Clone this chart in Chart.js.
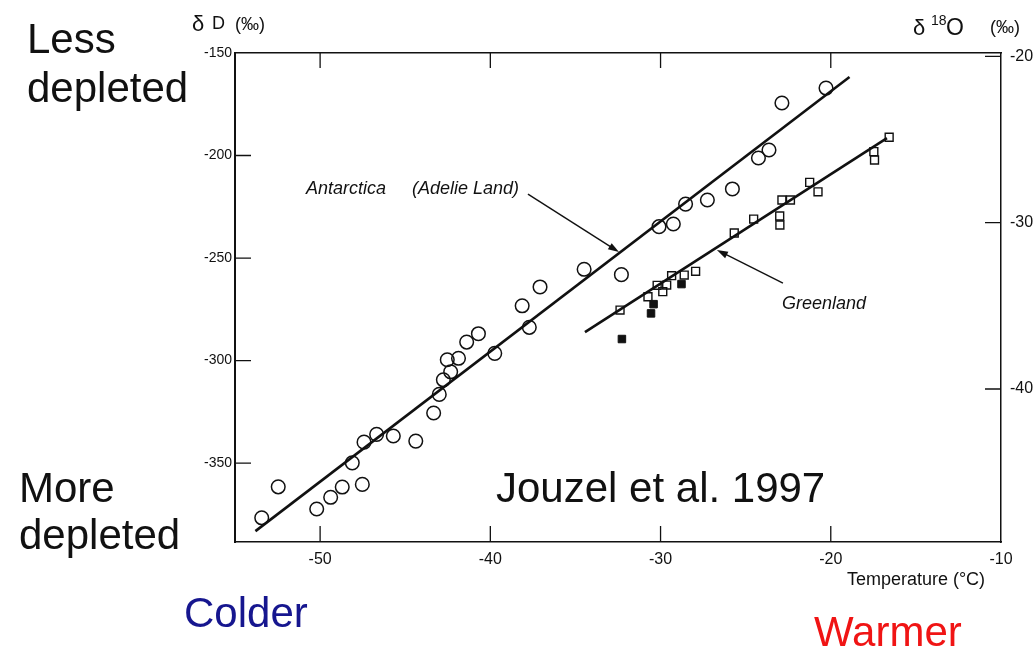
<!DOCTYPE html>
<html><head><meta charset="utf-8">
<script src="https://cdn.jsdelivr.net/npm/chart.js@4.4.1/dist/chart.umd.min.js"></script>
<style>html,body{margin:0;padding:0;background:#fff;overflow:hidden}#wrap{width:1035px;height:647px;position:relative}</style>
</head><body><div id="wrap"><canvas id="c" width="1035" height="647"></canvas></div>
<script>
// ---- data ----
const xTicks = [-50, -40, -30, -20, -10];
const yTicks = [-150, -200, -250, -300, -350];
const y2Ticks = [-20, -30, -40];

// Antarctica (Adelie Land) : temperature (°C), deltaD (permil)
const antT = [-53.43,-52.46,-50.20,-49.38,-48.70,-47.52,-48.11,-47.42,-46.68,-45.70,-44.38,-43.33,-43.00,-42.76,-42.33,-42.53,-41.87,-41.39,-40.70,-39.74,-37.71,-38.13,-37.08,-34.49,-32.30,-30.09,-29.25,-28.53,-27.25,-25.78,-24.25,-23.63,-22.87,-20.28];
const antD = [-376.7,-361.6,-372.4,-366.7,-361.7,-360.4,-349.9,-339.8,-336.0,-336.8,-339.3,-325.6,-316.5,-309.4,-305.5,-299.6,-298.9,-291.0,-286.9,-296.5,-283.8,-273.3,-264.1,-255.5,-258.1,-234.7,-233.4,-223.7,-221.7,-216.3,-201.2,-197.3,-174.4,-167.1];

// Greenland, open squares
const grOpenT = [-32.38,-30.74,-30.20,-29.87,-29.64,-29.35,-28.61,-27.94,-25.67,-24.53,-23.00,-22.99,-22.87,-22.37,-21.24,-20.75,-17.47,-17.43,-16.57];
const grOpenD = [-275.4,-268.9,-263.3,-266.4,-263.2,-258.6,-258.3,-256.5,-237.8,-231.0,-229.5,-233.9,-221.7,-221.7,-213.1,-217.7,-198.1,-202.2,-191.1];
// Greenland, filled squares
const grFillT = [-32.27,-30.56,-30.41,-28.77];
const grFillD = [-289.5,-277.0,-272.5,-262.7];

// regression lines
const antFitT = [-53.8, -18.9];
const antFitD = [-383.2, -161.7];
const grFitT = [-34.44, -16.70];
const grFitD = [-286.1, -191.5];

// annotation arrows (start -> head), data units
const arrowAntT = [-37.79, -32.44];
const arrowAntD = [-218.8, -247.1];
const arrowGrT = [-22.81, -26.69];
const arrowGrD = [-262.2, -246.1];

const FONT = "'Liberation Sans', Arial, Helvetica, sans-serif";
const INK = '#111';

function pts(xs, ys){ return xs.map((x,i)=>({x:x, y:ys[i]})); }

const inwardTicks = {
  id:'inwardTicks',
  afterDatasetsDraw(chart){
    const {ctx, chartArea:a, scales} = chart;
    ctx.save();
    ctx.strokeStyle = INK; ctx.lineWidth = 1.3;
    ctx.beginPath();
    xTicks.forEach(v=>{
      if (v <= scales.x.min || v >= scales.x.max) return;
      const px = scales.x.getPixelForValue(v);
      ctx.moveTo(px, a.bottom); ctx.lineTo(px, a.bottom-16);
      ctx.moveTo(px, a.top); ctx.lineTo(px, a.top+15);
    });
    yTicks.forEach(v=>{
      if (v <= scales.y.min || v >= scales.y.max) return;
      const py = scales.y.getPixelForValue(v);
      ctx.moveTo(a.left, py); ctx.lineTo(a.left+16, py);
    });
    y2Ticks.forEach(v=>{
      if (v <= scales.y2.min || v >= scales.y2.max) return;
      const py = scales.y2.getPixelForValue(v);
      ctx.moveTo(a.right, py); ctx.lineTo(a.right-16, py);
    });
    ctx.stroke();
    // arrows
    const arrow = (T, D) => {
      const x1 = scales.x.getPixelForValue(T[0]), y1 = scales.y.getPixelForValue(D[0]);
      const x2 = scales.x.getPixelForValue(T[1]), y2 = scales.y.getPixelForValue(D[1]);
      const ang = Math.atan2(y2-y1, x2-x1);
      const L = 11, W = 3.6;
      ctx.beginPath(); ctx.lineWidth = 1.4;
      ctx.moveTo(x1,y1); ctx.lineTo(x2 - L*0.8*Math.cos(ang), y2 - L*0.8*Math.sin(ang)); ctx.stroke();
      ctx.beginPath();
      ctx.moveTo(x2,y2);
      ctx.lineTo(x2 - L*Math.cos(ang) + W*Math.sin(ang), y2 - L*Math.sin(ang) - W*Math.cos(ang));
      ctx.lineTo(x2 - L*Math.cos(ang) - W*Math.sin(ang), y2 - L*Math.sin(ang) + W*Math.cos(ang));
      ctx.closePath(); ctx.fillStyle = INK; ctx.fill();
    };
    arrow(arrowAntT, arrowAntD);
    arrow(arrowGrT, arrowGrD);
    ctx.restore();
  }
};

const texts = {
  id:'texts',
  afterDraw(chart){
    const ctx = chart.ctx;
    ctx.save();
    ctx.textBaseline = 'alphabetic'; ctx.textAlign = 'left';
    const t = (s, x, y, size, color, style) => {
      ctx.font = (style||'') + ' ' + size + 'px ' + FONT;
      ctx.fillStyle = color || INK;
      ctx.fillText(s, x, y);
    };
    // big side labels
    t('Less', 27, 53, 42);
    t('depleted', 27, 102, 42);
    t('More', 19, 502, 42);
    t('depleted', 19, 549, 42);
    t('Jouzel et al. 1997', 496, 502, 42);
    t('Colder', 184, 627, 42, '#16168f');
    t('Warmer', 814, 646, 42, '#f01414');
    // axis titles
    t('\u03b4', 192, 31, 22);
    t('D', 212, 29, 18);
    t('(\u2030)', 235, 30, 18);
    t('\u03b4', 913, 35, 22);
    t('18', 931, 25, 14);
    t('O', 946, 35, 23);
    t('(\u2030)', 990, 33, 18);
    ctx.textAlign = 'center';
    t('Temperature (\u00b0C)', 916, 585, 18);
    ctx.textAlign = 'left';
    // annotations
    t('Antarctica', 306, 194, 18, INK, 'italic');
    t('(Adelie Land)', 412, 194, 18, INK, 'italic');
    t('Greenland', 782, 309, 18, INK, 'italic');
    ctx.restore();
  }
};

new Chart(document.getElementById('c'), {
  type: 'scatter',
  data: {
    datasets: [
      { label:'Antarctica', data: pts(antT, antD), pointStyle:'circle', pointRadius:6.8,
        pointBorderWidth:1.5, pointBorderColor:INK, pointBackgroundColor:'rgba(0,0,0,0)', showLine:false },
      { label:'Greenland open', data: pts(grOpenT, grOpenD), pointStyle:'rect', pointRadius:5.6,
        pointBorderWidth:1.4, pointBorderColor:INK, pointBackgroundColor:'rgba(255,255,255,0)', showLine:false },
      { label:'Greenland filled', data: pts(grFillT, grFillD), pointStyle:'rect', pointRadius:5.3,
        pointBorderWidth:1, pointBorderColor:INK, pointBackgroundColor:INK, showLine:false },
      { label:'Antarctica fit', type:'line', data: pts(antFitT, antFitD), showLine:true, pointRadius:0,
        borderColor:INK, borderWidth:2.6, fill:false },
      { label:'Greenland fit', type:'line', data: pts(grFitT, grFitD), showLine:true, pointRadius:0,
        borderColor:INK, borderWidth:2.6, fill:false }
    ]
  },
  options: {
    responsive:false, animation:false, devicePixelRatio:1,
    layout:{ padding:0 },
    plugins:{ legend:{display:false}, tooltip:{enabled:false}, title:{display:false} },
    scales:{
      x:{ type:'linear', position:'bottom', min:-55, max:-10,
        afterBuildTicks: s => { s.ticks = xTicks.map(v=>({value:v})); },
        afterFit: s => { s.height = 105; },
        ticks:{ font:{family:FONT, size:16}, color:INK, padding:8, maxRotation:0, autoSkip:false,
          callback: v => String(v) },
        grid:{ display:false, drawTicks:false },
        border:{ display:true, color:INK, width:1.5 } },
      x2:{ type:'linear', position:'top', min:-55, max:-10,
        afterFit: s => { s.height = 53; },
        ticks:{ display:false }, grid:{ display:false, drawTicks:false },
        border:{ display:true, color:INK, width:1.5 } },
      y:{ type:'linear', position:'left', min:-388.5, max:-150,
        afterBuildTicks: s => { s.ticks = yTicks.map(v=>({value:v})); },
        afterFit: s => { s.width = 235; },
        ticks:{ font:{family:FONT, size:14}, color:INK, padding:3, autoSkip:false, callback: v => String(v) },
        grid:{ display:false, drawTicks:false },
        border:{ display:true, color:INK, width:2 } },
      y2:{ type:'linear', position:'right', min:-49.2, max:-19.8,
        afterBuildTicks: s => { s.ticks = y2Ticks.map(v=>({value:v})); },
        afterFit: s => { s.width = 34; },
        ticks:{ font:{family:FONT, size:16}, color:INK, padding:9, autoSkip:false, callback: v => String(v) },
        grid:{ display:false, drawTicks:false },
        border:{ display:true, color:INK, width:1.5 } }
    }
  },
  plugins:[inwardTicks, texts]
});
</script>
</body></html>
